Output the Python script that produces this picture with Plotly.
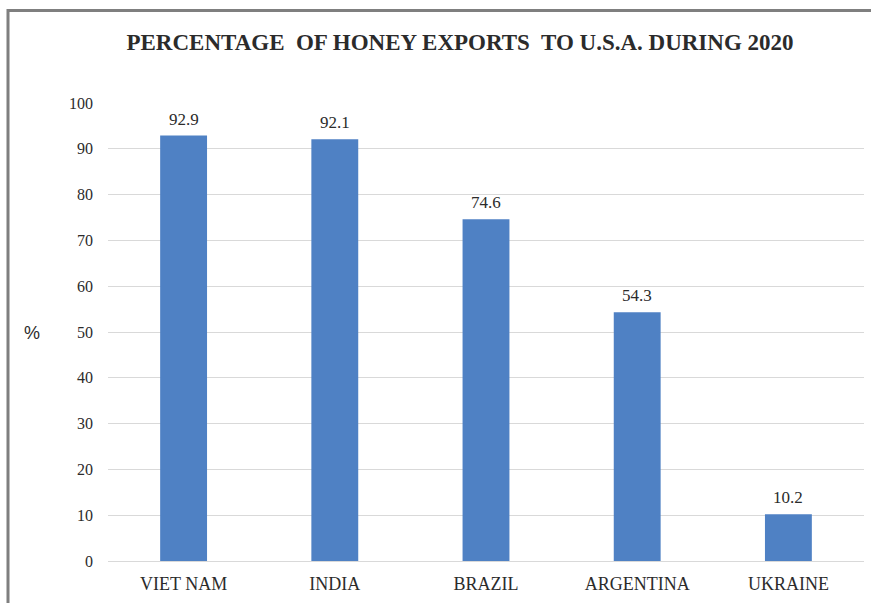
import plotly.graph_objects as go

countries = ["VIET NAM", "INDIA", "BRAZIL", "ARGENTINA", "UKRAINE"]
percent = [92.9, 92.1, 74.6, 54.3, 10.2]
y_ticks = [0, 10, 20, 30, 40, 50, 60, 70, 80, 90, 100]

W, H = 871, 603
ml, mr, mt, mb = 108, 7, 103, 42
pw = W - ml - mr
ph = H - mt - mb

def px(x):
    return (x - ml) / pw

def py(y):
    return (H - mb - y) / ph

TXT = "#2b2b2b"

fig = go.Figure()
fig.add_trace(go.Bar(
    x=countries, y=percent,
    marker=dict(color="#4F81C4", line=dict(width=0)),
    hoverinfo="skip",
))

# value labels placed just above each bar
for c, v in zip(countries, percent):
    fig.add_annotation(
        x=c, y=v, xref="x", yref="y", text=f"{v:.1f}",
        showarrow=False, yanchor="bottom", yshift=5,
        font=dict(family="Liberation Serif", size=17, color=TXT),
    )

fig.update_layout(
    width=W, height=H,
    margin=dict(l=ml, r=mr, t=mt, b=mb),
    paper_bgcolor="white", plot_bgcolor="white",
    bargap=0.69,
    showlegend=False,
    title=dict(
        text="<b>PERCENTAGE  OF HONEY EXPORTS  TO U.S.A. DURING 2020</b>",
        x=460 / W, xanchor="center", y=1 - 42 / H, yanchor="middle",
        font=dict(family="Liberation Serif", size=23, color=TXT),
    ),
    xaxis=dict(
        showgrid=False, showline=False, zeroline=False, ticks="",
        tickfont=dict(family="Liberation Serif", size=18, color=TXT),
        ticklabelstandoff=10,
    ),
    yaxis=dict(
        range=[0, 100], tickvals=y_ticks,
        showgrid=True, gridcolor="#D9D9D9", gridwidth=1,
        zeroline=True, zerolinecolor="#D9D9D9", zerolinewidth=1,
        showline=False, ticks="",
        tickfont=dict(family="Liberation Serif", size=16, color=TXT),
        ticklabelstandoff=14,
    ),
    font=dict(family="Liberation Serif"),
)

fig.add_annotation(
    text="%", xref="paper", yref="paper",
    x=px(32), y=py(333), xanchor="center", yanchor="middle",
    showarrow=False,
    font=dict(family="Liberation Sans", size=18, color=TXT),
)

# outer frame (top and left edges)
fig.add_shape(type="line", xref="paper", yref="paper",
              x0=px(7), x1=px(871), y0=py(10.5), y1=py(10.5),
              line=dict(color="#7F7F7F", width=3))
fig.add_shape(type="line", xref="paper", yref="paper",
              x0=px(8), x1=px(8), y0=py(9), y1=py(603),
              line=dict(color="#7F7F7F", width=3))

fig.write_html("out.html", config={"displayModeBar": False},
               post_script="document.body.style.margin='0';")
